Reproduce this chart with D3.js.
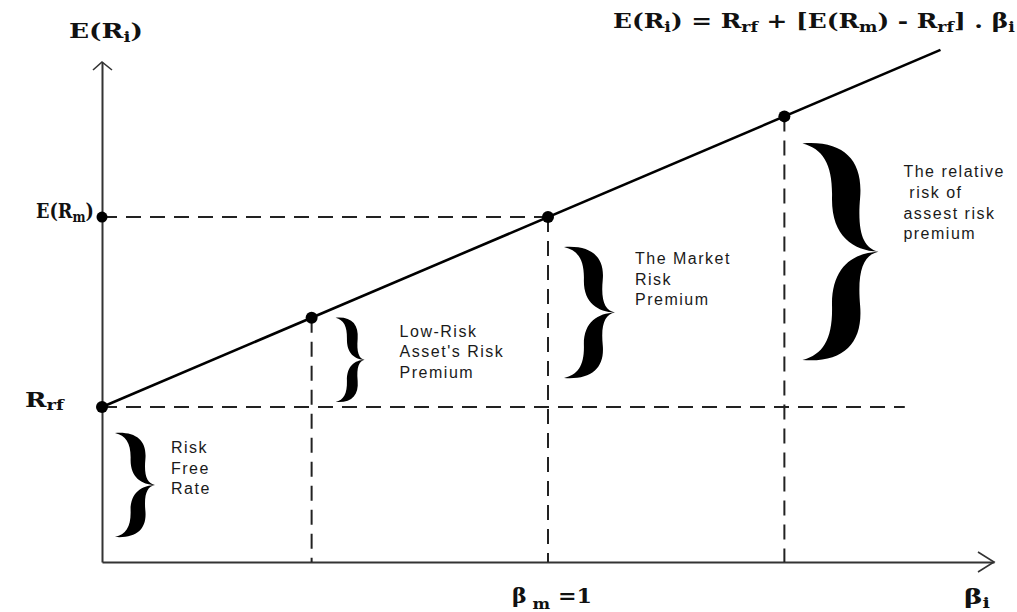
<!DOCTYPE html>
<html>
<head>
<meta charset="utf-8">
<script src="https://cdn.jsdelivr.net/npm/d3@7"></script>
<style>
  html, body { margin: 0; padding: 0; background: #fff; }
  svg { display: block; }
  .note { font-family: "Liberation Sans", Arial, sans-serif; font-size: 16px; letter-spacing: 1.5px; fill: #1a1a1a; white-space: pre; }
  .math { font-family: "DejaVu Serif", serif; font-weight: bold; font-size: 20px; fill: #111; }
</style>
</head>
<body>
<svg id="chart" width="1017" height="612"></svg>
<script>
// Security market line (CAPM): expected return against beta
const riskFree = 4.0;        // R_rf
const marketReturn = 8.9;    // E(R_m)
const betaMax = 2.0;
const returnMax = 12.9;
const lineBetaEnd = 1.88;    // where the drawn line stops
const rfGuideEnd = 1.8;      // where the R_rf guide stops
const assetNames = ["Risk-free", "Low-risk asset", "Market", "High-risk asset"];
const assetBetas = [0, 0.47, 1, 1.53];
const noteLines = [
  ["Risk", "Free", "Rate"],
  ["Low-Risk", "Asset's Risk", "Premium"],
  ["The Market", "Risk", "Premium"],
  ["The relative", " risk of", "assest risk", "premium"]
];

const expected = b => riskFree + (marketReturn - riskFree) * b;

// brace ranges in return units: [low, high] and the beta they sit beside
const braceRanges = [
  { beta: 0,    lo: 0,        hi: riskFree },
  { beta: 0.47, lo: riskFree, hi: expected(0.47) },
  { beta: 1,    lo: riskFree, hi: marketReturn },
  { beta: 1.53, lo: riskFree, hi: expected(1.53) }
];

// brace drawing layout (pixels)
const braceLayout = [
  { dx: 13, w: 40, insetTop: 26, insetBot: 25, tx: 56,  ty: 20 },
  { dx: 24, w: 29, insetTop: 0,  insetBot: 5,  tx: 64,  ty: 19 },
  { dx: 16, w: 51, insetTop: 30, insetBot: 29, tx: 71,  ty: 17 },
  { dx: 18, w: 76, insetTop: 27, insetBot: 47, tx: 101, ty: 34 }
];

const svg = d3.select("#chart");
const x = d3.scaleLinear().domain([0, betaMax]).range([102, 994]);
const y = d3.scaleLinear().domain([0, returnMax]).range([562, 62]);

// axes (domain lines only)
const axStyle = g => {
  g.select(".domain").attr("stroke", "#333").attr("stroke-width", 2);
};
svg.append("g").attr("transform", `translate(0,${y(0)})`)
  .call(d3.axisBottom(x).tickValues([]).tickSizeOuter(0)).call(axStyle);
svg.append("g").attr("transform", `translate(${x(0)},0)`)
  .call(d3.axisLeft(y).tickValues([]).tickSizeOuter(0)).call(axStyle);

// open arrowheads
const arrows = svg.append("g").attr("fill", "none").attr("stroke", "#333").attr("stroke-width", 1.6);
arrows.append("path").attr("d", `M${x(betaMax) - 16},${y(0) - 10}L${x(betaMax)},${y(0)}L${x(betaMax) - 16},${y(0) + 10}`);
arrows.append("path").attr("d", `M${x(0) - 9},${y(returnMax) + 8}L${x(0)},${y(returnMax)}L${x(0) + 10},${y(returnMax) + 8}`);

// dashed guides
const dash = svg.append("g").attr("stroke", "#222").attr("stroke-width", 2).attr("stroke-dasharray", "15,9").attr("fill", "none");
dash.append("line").attr("x1", x(0)).attr("x2", x(rfGuideEnd)).attr("y1", y(riskFree)).attr("y2", y(riskFree));
dash.append("line").attr("x1", x(0)).attr("x2", x(1)).attr("y1", y(marketReturn)).attr("y2", y(marketReturn));
dash.selectAll("line.v").data(assetBetas.filter(b => b > 0)).join("line").attr("class", "v")
  .attr("x1", d => x(d)).attr("x2", d => x(d))
  .attr("y1", d => y(expected(d))).attr("y2", y(0));

// the security market line
svg.append("path")
  .datum([0, lineBetaEnd])
  .attr("fill", "none").attr("stroke", "#000").attr("stroke-width", 2.6)
  .attr("d", d3.line().x(d => x(d)).y(d => y(expected(d))));

// asset points
svg.selectAll("circle.asset").data(assetBetas).join("circle").attr("class", "asset")
  .attr("cx", d => x(d)).attr("cy", d => y(expected(d))).attr("r", 6).attr("fill", "#000");
svg.append("circle").attr("cx", x(0)).attr("cy", y(marketReturn)).attr("r", 5.5).attr("fill", "#000");

// curly brace pointing right: tips at x0, point at x0+w
function bracePath(x0, w, t, b) {
  const m = (t + b) / 2;
  const half = (s, e) => {
    const d = Math.sign(e - s), H = Math.abs(e - s);
    const Y = f => s + d * f * H;
    return `M${x0},${s}` +
      `C${x0 + 0.55 * w},${Y(-0.03)} ${x0 + 0.8 * w},${Y(0.16)} ${x0 + 0.76 * w},${Y(0.5)}` +
      `C${x0 + 0.72 * w},${Y(0.82)} ${x0 + 0.8 * w},${Y(0.97)} ${x0 + w},${e}` +
      `C${x0 + 0.66 * w},${Y(0.99)} ${x0 + 0.38 * w},${Y(0.85)} ${x0 + 0.39 * w},${Y(0.5)}` +
      `C${x0 + 0.4 * w},${Y(0.2)} ${x0 + 0.28 * w},${Y(0.05)} ${x0},${s}Z`;
  };
  return half(t, m) + half(b, m);
}

braceRanges.forEach((r, i) => {
  const L = braceLayout[i];
  const x0 = x(r.beta) + L.dx;
  const t = y(r.hi) + L.insetTop;
  const b = y(r.lo) - L.insetBot;
  svg.append("path").attr("d", bracePath(x0, L.w, t, b)).attr("fill", "#000");
  const txt = svg.append("text").attr("class", "note");
  noteLines[i].forEach((line, k) => {
    txt.append("tspan").attr("x", x0 + L.tx).attr("y", t + L.ty + k * 20.6).text(line);
  });
});

// bold serif math labels built from pieces; sub = subscript shift
function mathLabel(parts, px, py, width) {
  const g = svg.append("text").attr("class", "math").attr("x", 0).attr("y", 0);
  let shift = 0;
  parts.forEach(p => {
    const s = p.sub || 0;
    g.append("tspan")
      .attr("dy", s - shift)
      .attr("font-size", s ? (p.size || 14) : null)
      .text(p.t);
    shift = s;
  });
  const bb = g.node().getBBox();
  const sx = width / bb.width;
  g.attr("transform", `translate(${px},${py}) scale(${sx},1) translate(${-bb.x},0)`);
}

mathLabel([{ t: "E(R" }, { t: "i", sub: 4 }, { t: ")" }], 69, 38, 74);
mathLabel([{ t: "E(R" }, { t: "m", sub: 4 }, { t: ")" }], 36, 218, 58);
mathLabel([{ t: "R" }, { t: "rf", sub: 3 }], 25, 407, 40);
mathLabel([
  { t: "E(R" }, { t: "i", sub: 4 }, { t: ") = R" }, { t: "rf", sub: 4 },
  { t: " + [E(R" }, { t: "m", sub: 4 }, { t: ") - R" }, { t: "rf", sub: 4 },
  { t: "] . β" }, { t: "i", sub: 4 }
], 613, 28, 402);
mathLabel([{ t: "β" }, { t: " m", sub: 6, size: 15 }, { t: " =1" }], 512, 603, 80);
mathLabel([{ t: "β" }, { t: "i", sub: 4 }], 964, 604, 26);
</script>
</body>
</html>
